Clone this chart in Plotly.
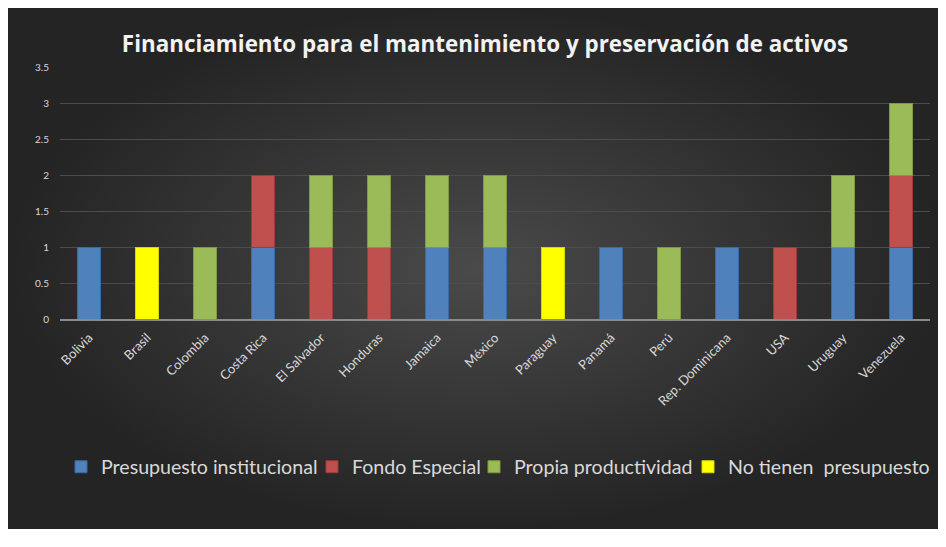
import plotly.graph_objects as go

W, H = 938, 521
OFF = 8  # the page body margin shifts the figure by 8px


def fx(px):
    return (px - OFF) / W


def fy(py):
    return (H - (py - OFF)) / H


paises = ['Bolivia', 'Brasil', 'Colombia', 'Costa Rica', 'El Salvador', 'Honduras',
          'Jamaica', 'México', 'Paraguay', 'Panamá', 'Perú', 'Rep. Dominicana',
          'USA', 'Uruguay', 'Venezuela']

presupuesto_inst = [1, None, None, 1, None, None, 1, 1, None, 1, None, 1, None, 1, 1]
fondo_especial = [None, None, None, 1, 1, 1, None, None, None, None, None, None, 1, None, 1]
propia_prod = [None, None, 1, None, 1, 1, 1, 1, None, None, 1, None, None, 1, 1]
sin_presupuesto = [None, 1, None, None, None, None, None, None, 1, None, None, None, None, None, None]

series = [
    ('Presupuesto institucional', presupuesto_inst, '#4f81bd', '#3a6aa3'),
    ('Fondo Especial', fondo_especial, '#c0504d', '#9e3a38'),
    ('Propia productividad', propia_prod, '#9bbb59', '#7d9a42'),
    ('No tienen  presupuesto', sin_presupuesto, '#ffff00', '#d6d600'),
]

# left edge of each legend entry's text, in screen pixels
legend_text_x = [101, 352, 514, 728]

fig = go.Figure()

# dark radial background of the chart frame
fig.add_trace(go.Scatter(
    x=[0, 1, 1, 0, 0], y=[0, 0, 1, 1, 0],
    mode='lines', fill='toself', line=dict(width=0),
    fillgradient=dict(type='radial', colorscale=[[0, '#4a4a4a'], [1, '#242424']]),
    hoverinfo='skip', showlegend=False, xaxis='x', yaxis='y',
))

legend_names = ['legend', 'legend2', 'legend3', 'legend4']
for (nombre, vals, color, borde), lg in zip(series, legend_names):
    fig.add_trace(go.Bar(
        x=paises, y=vals, name=nombre, legend=lg,
        marker=dict(color=color, line=dict(color=borde, width=1)),
        xaxis='x2', yaxis='y2',
    ))

leg_style = dict(
    orientation='h', yanchor='middle', xanchor='left', y=fy(467),
    font=dict(family='Lato', size=19.6, color='#d9d9d9'),
    bgcolor='rgba(0,0,0,0)', itemwidth=30,
)

fig.update_layout(
    width=W, height=H,
    margin=dict(l=0, r=0, t=0, b=0, autoexpand=False),
    paper_bgcolor='#2a2a2a',
    plot_bgcolor='rgba(0,0,0,0)',
    barmode='stack',
    bargap=0.59,
    title=dict(
        text='<b>Financiamiento para el mantenimiento y preservación de activos</b>',
        x=fx(485), y=fy(44), xanchor='center', yanchor='middle',
        font=dict(family='Open Sans', size=22.4, color='#f2f2f2'),
    ),
    xaxis=dict(domain=[0, 1], range=[0, 1], visible=False, fixedrange=True),
    yaxis=dict(domain=[0, 1], range=[0, 1], visible=False, fixedrange=True),
    xaxis2=dict(
        domain=[fx(60), fx(930)], anchor='y2', type='category',
        tickangle=-45, showgrid=False, showline=True, linecolor='#8a8a8a', linewidth=2,
        tickfont=dict(family='Lato', size=13, color='#d9d9d9'),
        ticklabelstandoff=4,
    ),
    yaxis2=dict(
        domain=[fy(319), fy(67)], anchor='x2',
        range=[0, 3.5], dtick=0.5,
        showgrid=True, gridcolor='#4c4c4c', gridwidth=1, zeroline=False,
        tickfont=dict(family='Lato', size=10, color='#d9d9d9'),
        ticklabelstandoff=10,
    ),
    legend=dict(leg_style, x=fx(legend_text_x[0] - 40)),
    legend2=dict(leg_style, x=fx(legend_text_x[1] - 40)),
    legend3=dict(leg_style, x=fx(legend_text_x[2] - 40)),
    legend4=dict(leg_style, x=fx(legend_text_x[3] - 40)),
)

fig.write_html('out.html')
